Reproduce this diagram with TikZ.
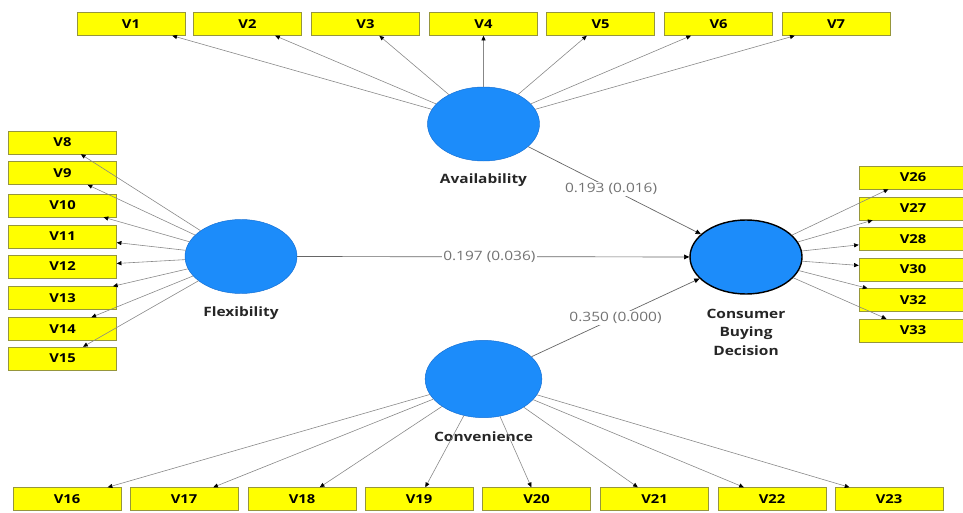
\documentclass[tikz,border=0pt]{standalone}
\usepackage{fontspec}
\setmainfont[FakeStretch=1.2]{Open Sans}
\usetikzlibrary{positioning,arrows.meta,shapes.geometric}

\definecolor{boxyellow}{RGB}{255,255,0}
\definecolor{boxedge}{RGB}{150,150,60}
\definecolor{lvblue}{RGB}{28,140,250}
\definecolor{lvedge}{RGB}{20,110,210}
\definecolor{linegray}{RGB}{135,135,135}

\begin{document}
\begin{tikzpicture}[x=0.03cm,y=-0.03cm,
  ind/.style={draw=boxedge,fill=boxyellow,minimum width=3.24cm,minimum height=0.69cm,
    inner sep=0pt,font=\bfseries\fontsize{10.5}{12}\selectfont},
  lv/.style={ellipse,draw=lvedge,fill=lvblue,minimum width=3.36cm,minimum height=2.22cm,inner sep=0pt},
  lvname/.style={font=\bfseries\fontsize{11}{16}\selectfont,align=center,text=black!85},
  load/.style={draw=linegray,line width=0.5pt,-{Triangle[length=4pt,width=3.5pt,color=black]}},
  struct/.style={draw=black!60,line width=0.6pt,-{Triangle[length=4.5pt,width=4pt,color=black]}},
  plabel/.style={fill=white,inner sep=1pt,text=black!55,font=\fontsize{11}{13}\selectfont}]
\clip (0,0) rectangle (963,513);

\node[lv] (avail) at (483.5,124) {};
\node[lv] (flex) at (241,256.5) {};
\node[lv,minimum width=3.5cm,minimum height=2.32cm] (conv) at (483.5,379) {};
\node[lv,draw=black,line width=1.2pt] (cbd) at (746,257) {};

\node[lvname,below=0.26cm of avail] (availname) {Availability};
\node[lvname,below=0.26cm of flex] (flexname) {Flexibility};
\node[lvname,below=0.3cm of conv] (convname) {Convenience};
\node[lvname,below=0.3cm of cbd] (cbdname) {Consumer\\Buying\\Decision};

\node[ind] (v1) at (131,24) {V1};
\node[ind] (v2) at (247.5,24) {V2};
\node[ind] (v3) at (365.5,24) {V3};
\node[ind] (v4) at (483.5,24) {V4};
\node[ind] (v5) at (600.5,24) {V5};
\node[ind] (v6) at (718.5,24) {V6};
\node[ind] (v7) at (836,24) {V7};

\node[ind] (v8) at (62.5,142.5) {V8};
\node[ind] (v9) at (62.5,173) {V9};
\node[ind] (v10) at (62.5,205.5) {V10};
\node[ind] (v11) at (62.5,236.5) {V11};
\node[ind] (v12) at (62.5,266.5) {V12};
\node[ind] (v13) at (62.5,298) {V13};
\node[ind] (v14) at (62.5,329) {V14};
\node[ind] (v15) at (62.5,358.5) {V15};

\node[ind] (v16) at (67,499) {V16};
\node[ind] (v17) at (184,499) {V17};
\node[ind] (v18) at (302,499) {V18};
\node[ind] (v19) at (419,499) {V19};
\node[ind] (v20) at (536.5,499) {V20};
\node[ind] (v21) at (654.5,499) {V21};
\node[ind] (v22) at (772,499) {V22};
\node[ind] (v23) at (889,499) {V23};

\node[ind] (v26) at (913,177.5) {V26};
\node[ind] (v27) at (913,208.5) {V27};
\node[ind] (v28) at (913,239) {V28};
\node[ind] (v30) at (913,269.5) {V30};
\node[ind] (v32) at (913,300) {V32};
\node[ind] (v33) at (913,330.5) {V33};

\draw[load] (avail) -- (v1);
\draw[load] (avail) -- (v2);
\draw[load] (avail) -- (v3);
\draw[load] (avail) -- (v4);
\draw[load] (avail) -- (v5);
\draw[load] (avail) -- (v6);
\draw[load] (avail) -- (v7);

\draw[load] (flex) -- (v8);
\draw[load] (flex) -- (v9);
\draw[load] (flex) -- (v10);
\draw[load] (flex) -- (v11);
\draw[load] (flex) -- (v12);
\draw[load] (flex) -- (v13);
\draw[load] (flex) -- (v14);
\draw[load] (flex) -- (v15);

\draw[load] (conv) -- (v16);
\draw[load] (conv) -- (v17);
\draw[load] (conv) -- (v18);
\draw[load] (conv) -- (v19);
\draw[load] (conv) -- (v20);
\draw[load] (conv) -- (v21);
\draw[load] (conv) -- (v22);
\draw[load] (conv) -- (v23);

\draw[load] (cbd) -- (v26);
\draw[load] (cbd) -- (v27);
\draw[load] (cbd) -- (v28);
\draw[load] (cbd) -- (v30);
\draw[load] (cbd) -- (v32);
\draw[load] (cbd) -- (v33);

\draw[struct] (avail) -- node[plabel,pos=0.48] (pavail) {0.193 (0.016)} (cbd);
\draw[struct] (flex) -- node[plabel,pos=0.49] (pflex) {0.197 (0.036)} (cbd);
\draw[struct] (conv) -- node[plabel,pos=0.5] (pconv) {0.350 (0.000)} (cbd);

\end{tikzpicture}
\end{document}
